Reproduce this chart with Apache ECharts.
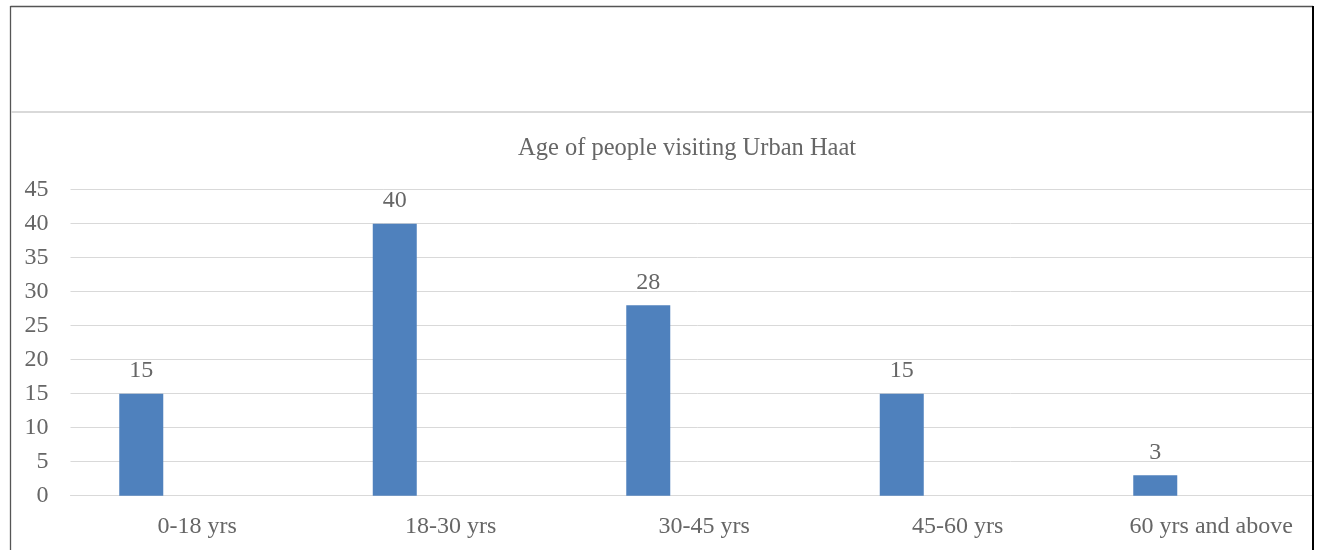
<!DOCTYPE html>
<html>
<head>
<meta charset="utf-8">
<script src="https://cdn.jsdelivr.net/npm/echarts@6/dist/echarts.min.js"></script>
<style>
html,body{margin:0;padding:0;background:#fff;}
#chart{width:1323px;height:550px;}
</style>
</head>
<body>
<div id="chart"></div>
<script>
const categories = ['0-18 yrs', '18-30 yrs', '30-45 yrs', '45-60 yrs', '60 yrs and above'];
const visitors = [15, 40, 28, 15, 3];
const emptySeries = ['-', '-', '-', '-', '-'];
const titleText = 'Age of people visiting Urban Haat';

const textColor = '#666666';
const font = '"Liberation Serif", "Times New Roman", serif';

const chart = echarts.init(document.getElementById('chart'), null, {renderer: 'canvas'});
chart.setOption({
  animation: false,
  backgroundColor: '#ffffff',
  title: {
    text: titleText,
    left: 518,
    top: 136,
    padding: 0,
    textStyle: {fontFamily: font, fontSize: 24.5, fontWeight: 'normal', color: textColor}
  },
  grid: {left: 70.5, right: -15, top: 189.7, bottom: 54.3, outerBoundsMode: 'none', containLabel: false},
  xAxis: {
    type: 'category',
    data: categories,
    axisLine: {show: true, lineStyle: {color: '#d9d9d9', width: 1}},
    axisTick: {show: false},
    axisLabel: {interval: 0, margin: 19, fontFamily: font, fontSize: 24, color: textColor}
  },
  yAxis: {
    type: 'value',
    min: 0, max: 45, interval: 5,
    axisLine: {show: false},
    axisTick: {show: false},
    splitLine: {lineStyle: {color: '#d9d9d9', width: 1}},
    axisLabel: {margin: 22, fontFamily: font, fontSize: 24, color: textColor}
  },
  series: [
    {
      type: 'bar',
      data: visitors,
      barWidth: 44,
      barGap: '154.5%',
      itemStyle: {color: '#4f81bd'},
      label: {show: true, position: 'top', distance: 11, fontFamily: font, fontSize: 24, color: textColor}
    },
    {
      type: 'bar',
      data: emptySeries,
      barWidth: 44,
      itemStyle: {color: '#c0504d'}
    }
  ],
  graphic: [
    {type: 'rect', z: 100, shape: {x: 1314, y: 0, width: 9, height: 550}, style: {fill: '#ffffff'}},
    {type: 'line', z: 101, shape: {x1: 10.5, y1: 6.5, x2: 1313, y2: 6.5}, style: {stroke: '#555555', lineWidth: 1.3}},
    {type: 'line', z: 101, shape: {x1: 10.5, y1: 6, x2: 10.5, y2: 550}, style: {stroke: '#555555', lineWidth: 1.3}},
    {type: 'line', z: 101, shape: {x1: 1313, y1: 6, x2: 1313, y2: 550}, style: {stroke: '#000000', lineWidth: 2}},
    {type: 'line', z: 101, shape: {x1: 11, y1: 112, x2: 1312, y2: 112}, style: {stroke: '#d9d9d9', lineWidth: 2}}
  ]
});
</script>
</body>
</html>
